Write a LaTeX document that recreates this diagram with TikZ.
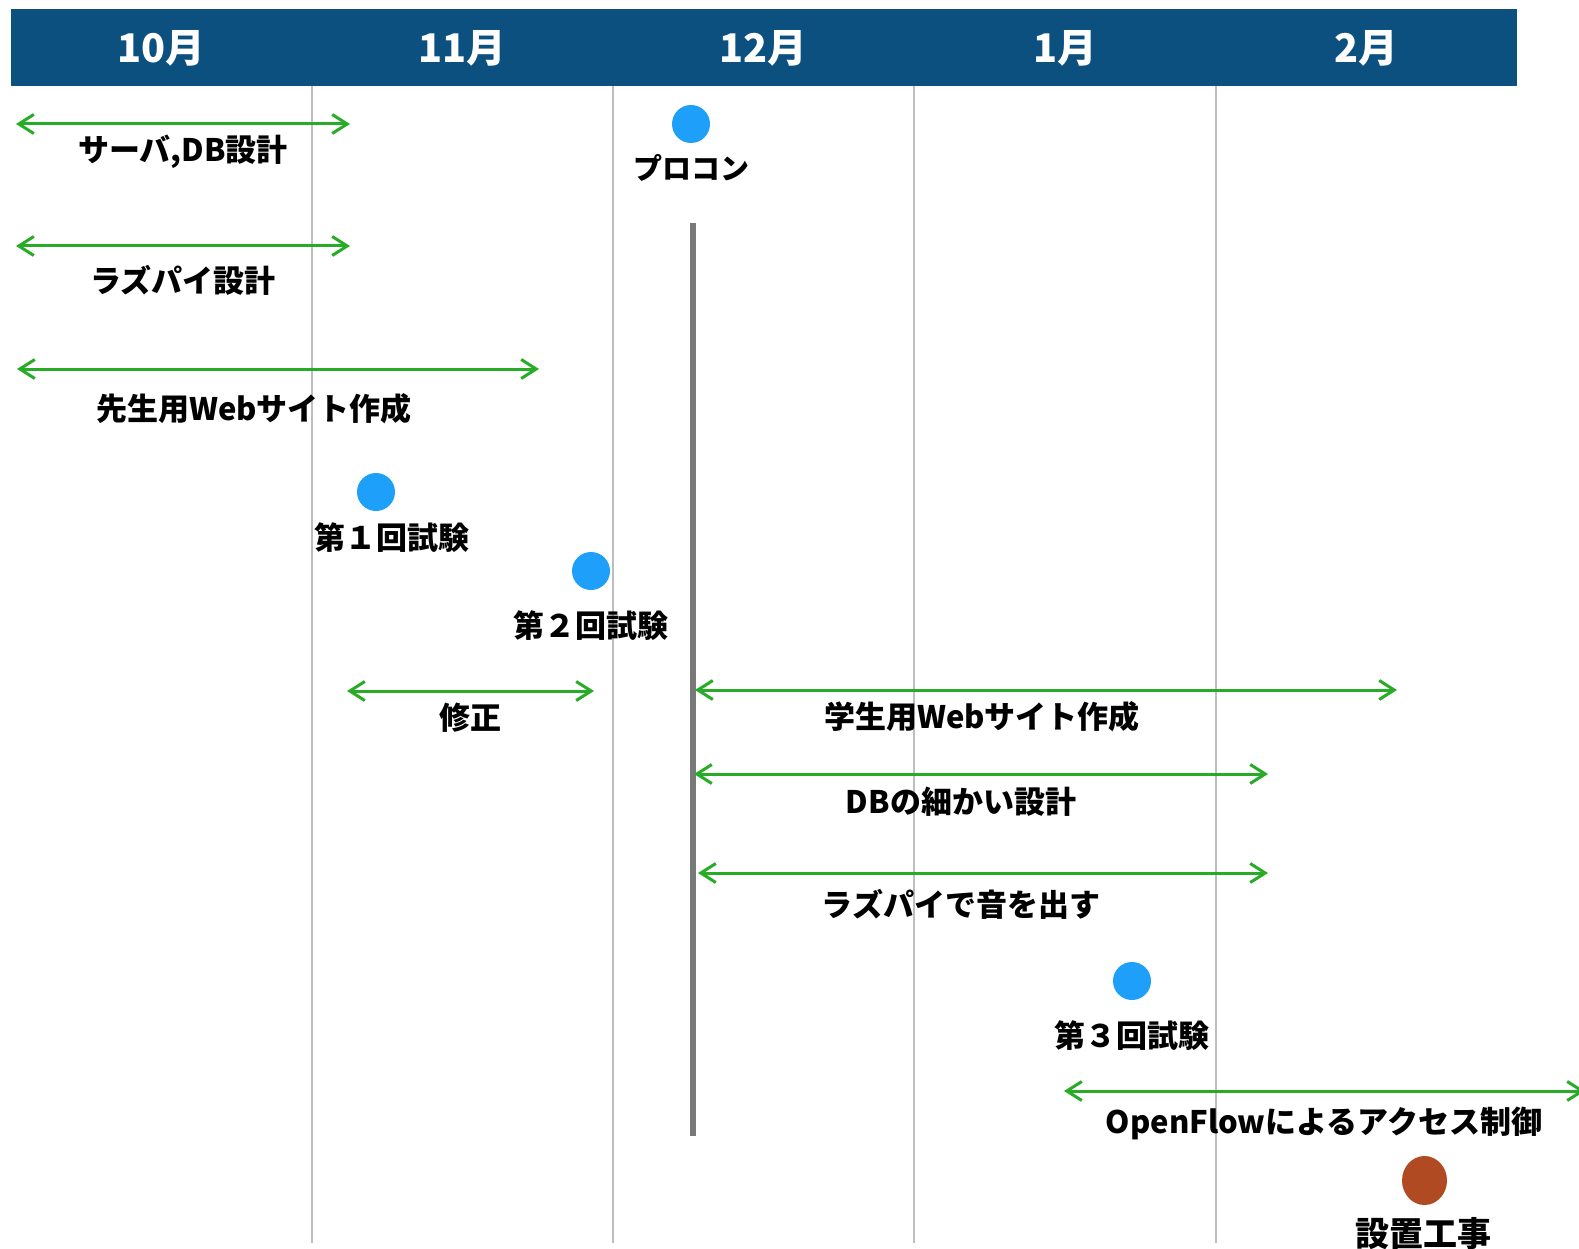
\documentclass[tikz,border=0pt]{standalone}
\usepackage{fontspec}
\setmainfont{Noto Sans CJK JP}
\usetikzlibrary{arrows.meta,shapes.geometric}
\definecolor{hdr}{RGB}{12,80,128}
\definecolor{grn}{RGB}{40,172,40}
\definecolor{dotblue}{RGB}{30,160,250}
\definecolor{dotbrown}{RGB}{176,74,34}
\definecolor{gridc}{RGB}{190,190,190}
\tikzset{
  span/.style={grn, line width=3pt, {Straight Barb[length=15pt,width=19pt,line width=3pt]}-{Straight Barb[length=15pt,width=19pt,line width=3pt]}},
  lbl/.style={font=\fontsize{31}{36}\selectfont\bfseries, inner sep=0pt, text=black},
  month/.style={font=\fontsize{39.5}{45}\selectfont\bfseries, text=white, inner sep=0pt},
  gridline/.style={gridc, line width=1.2pt},
  milestone/.style={circle, fill=dotblue, minimum size=38pt, inner sep=0pt},
}
\begin{document}
\begin{tikzpicture}[x=1pt,y=-1pt]
\clip (0,0) rectangle (1579,1249);
\fill[white] (0,0) rectangle (1579,1249);
% header
\fill[hdr] (11,9) rectangle (1517,86);
\node[month] (m10) at (161.5,48) {10月};
\node[month] (m11) at (462.5,48) {11月};
\node[month] (m12) at (763.5,48) {12月};
\node[month] (m1) at (1065,48) {1月};
\node[month] (m2) at (1366.5,48) {2月};
% grid lines
\coordinate (g1t) at (312,86); \coordinate (g1b) at (312,1243);
\coordinate (g2t) at (613,86); \coordinate (g2b) at (613,1243);
\coordinate (g3t) at (914,86); \coordinate (g3b) at (914,1243);
\coordinate (g4t) at (1216,86); \coordinate (g4b) at (1216,1243);
\draw[gridline] (g1t) -- (g1b);
\draw[gridline] (g2t) -- (g2b);
\draw[gridline] (g3t) -- (g3b);
\draw[gridline] (g4t) -- (g4b);
% procon bar
\coordinate (bart) at (693,223);
\coordinate (barb) at (693,1136);
\draw[gray!95!black, line width=6pt] (bart) -- (barb);
% spans
\coordinate (a1l) at (16,124); \coordinate (a1r) at (350,124);
\draw[span] (a1l) -- (a1r);
\node[lbl] (t1) at (183,152) {サーバ,DB設計};
\coordinate (a2l) at (16,246); \coordinate (a2r) at (350,246);
\draw[span] (a2l) -- (a2r);
\node[lbl] (t2) at (183,280) {ラズパイ設計};
\coordinate (a3l) at (17,369); \coordinate (a3r) at (539,369);
\draw[span] (a3l) -- (a3r);
\node[lbl] (t3) at (254,409) {先生用Webサイト作成};
\coordinate (a4l) at (347,691); \coordinate (a4r) at (594,691);
\draw[span] (a4l) -- (a4r);
\node[lbl] (t4) at (470,718) {修正};
\coordinate (a5l) at (695,690); \coordinate (a5r) at (1397,690);
\draw[span] (a5l) -- (a5r);
\node[lbl] (t5) at (982,717) {学生用Webサイト作成};
\coordinate (a6l) at (694,774); \coordinate (a6r) at (1268,774);
\draw[span] (a6l) -- (a6r);
\node[lbl] (t6) at (961,802) {DBの細かい設計};
\coordinate (a7l) at (698,873); \coordinate (a7r) at (1268,873);
\draw[span] (a7l) -- (a7r);
\node[lbl] (t7) at (961,904) {ラズパイで音を出す};
\coordinate (a8l) at (1064,1091); \coordinate (a8r) at (1585,1091);
\draw[span] (a8l) -- (a8r);
\node[lbl] (t8) at (1324,1123) {OpenFlowによるアクセス制御};
% milestones
\node[milestone] (d0) at (691,124) {};
\node[lbl, font=\fontsize{29}{34}\selectfont\bfseries] (l0) at (691,168) {プロコン};
\node[milestone] (d1) at (376,492) {};
\node[lbl] (l1) at (392,538) {第１回試験};
\node[milestone] (d2) at (591,571) {};
\node[lbl] (l2) at (591,626) {第２回試験};
\node[milestone] (d3) at (1132,981) {};
\node[lbl] (l3) at (1132,1036) {第３回試験};
\node[ellipse, fill=dotbrown, minimum width=45pt, minimum height=49pt, inner sep=0pt] (d4) at (1424.5,1180.5) {};
\node[lbl, font=\fontsize{34}{40}\selectfont\bfseries] (l4) at (1423,1234) {設置工事};
\end{tikzpicture}
\end{document}
